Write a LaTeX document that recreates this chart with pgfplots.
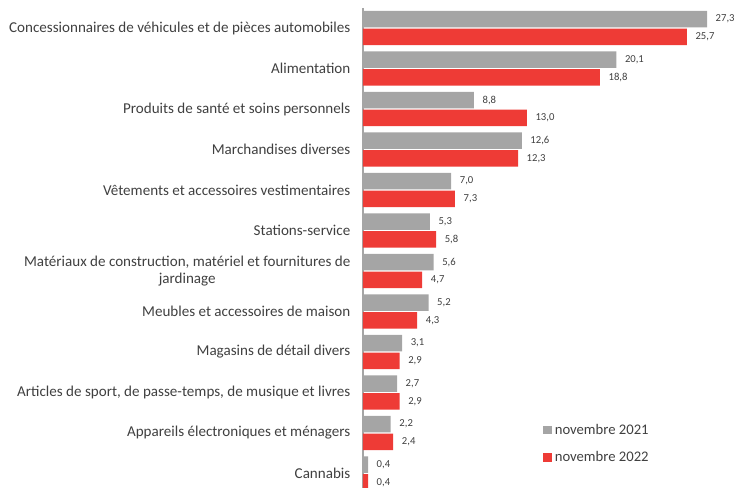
\documentclass[border=0pt]{standalone}
\usepackage{fontspec}
\setmainfont{Carlito}
\usepackage{pgfplots}
\pgfplotsset{compat=1.18}
\definecolor{bargray}{HTML}{A5A5A5}
\definecolor{barred}{HTML}{EE3B36}
\definecolor{txt}{HTML}{404040}

\begin{document}
\begin{tikzpicture}
\useasboundingbox (-272.25pt,0pt) rectangle (278.25pt,366pt);
\begin{axis}[
  at={(0pt,0pt)}, anchor=south west,
  scale only axis, width=278.25pt, height=360pt,
  xbar, bar width=12.4pt,
  xmin=0, xmax=29.44,
  ymin=-0.494, ymax=11.358, y dir=reverse,
  axis y line*=left, axis x line=none,
  y axis line style={draw=bargray, line width=0.8pt},
  ytick={0,...,11}, major tick length=0pt,
  yticklabels={
    Concessionnaires de véhicules et de pièces automobiles,
    Alimentation,
    Produits de santé et soins personnels,
    Marchandises diverses,
    Vêtements et accessoires vestimentaires,
    Stations-service,
    {Matériaux de construction, matériel et fournitures de\\jardinage},
    Meubles et accessoires de maison,
    Magasins de détail divers,
    {Articles de sport, de passe-temps, de musique et livres},
    Appareils électroniques et ménagers,
    Cannabis},
  yticklabel style={font=\fontsize{11.3}{13}\selectfont, text=txt, align=center, xshift=-6pt},
  nodes near coords,
  nodes near coords style={font=\fontsize{8}{9}\selectfont, text=txt, anchor=west, xshift=3pt,
    /pgf/number format/.cd, use comma, fixed, fixed zerofill, precision=1, assume math mode=true},
  legend style={at={(rel axis cs:0.475,0.145)}, anchor=north west, draw=none, fill=none,
    font=\fontsize{11}{13}\selectfont, text=txt, row sep=7.5pt, legend cell align=left},
  legend image code/.code={\fill[#1, draw=none] (0.5pt,-3.3pt) rectangle (7pt,3.3pt);},
]
\addplot[fill=bargray, draw=none, bar shift=6.6pt] coordinates {
 (27.3,0) (20.1,1) (8.8,2) (12.6,3) (7.0,4) (5.3,5) (5.6,6) (5.2,7) (3.1,8) (2.7,9) (2.2,10) (0.4,11)};
\addlegendentry{novembre 2021}
\addplot[fill=barred, draw=none, bar shift=-6.6pt] coordinates {
 (25.7,0) (18.8,1) (13.0,2) (12.3,3) (7.3,4) (5.8,5) (4.7,6) (4.3,7) (2.9,8) (2.9,9) (2.4,10) (0.4,11)};
\addlegendentry{novembre 2022}
\end{axis}
\end{tikzpicture}
\end{document}
